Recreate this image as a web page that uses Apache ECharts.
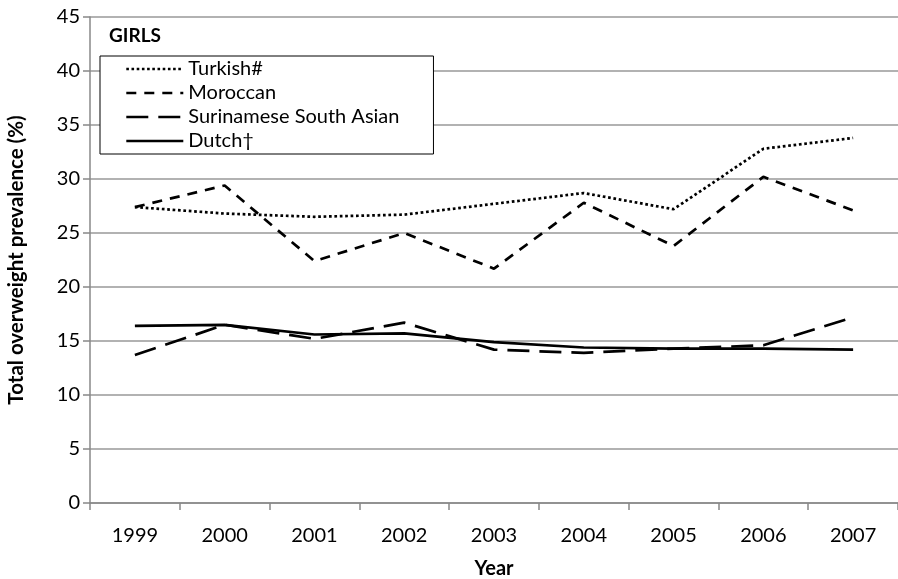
<!DOCTYPE html>
<html>
<head>
<meta charset="utf-8">
<script src="https://cdn.jsdelivr.net/npm/echarts@6/dist/echarts.min.js"></script>
<style>html,body{margin:0;padding:0;background:#fff}#c{width:898px;height:579px}</style>
</head>
<body>
<div id="c"></div>
<script>
const years = ['1999','2000','2001','2002','2003','2004','2005','2006','2007'];
const turkish = [27.4, 26.8, 26.5, 26.7, 27.7, 28.7, 27.2, 32.8, 33.8];
const moroccan = [27.4, 29.4, 22.4, 25.0, 21.7, 27.8, 23.8, 30.2, 27.1];
const surinamese = [13.7, 16.5, 15.2, 16.7, 14.2, 13.9, 14.3, 14.6, 17.2];
const dutch = [16.4, 16.5, 15.6, 15.7, 14.9, 14.4, 14.3, 14.3, 14.2];
const seriesNames = ['Turkish#', 'Moroccan', 'Surinamese South Asian', 'Dutch\u2020'];

const FONT = 'Lato';
const chart = echarts.init(document.getElementById('c'), null, {renderer: 'canvas'});

function mk(name, data, type, width) {
  return {
    name: name, type: 'line', data: data, symbol: 'none', smooth: false,
    lineStyle: {color: '#000', width: width, type: type},
    itemStyle: {color: '#000'},
    emphasis: {disabled: true}
  };
}

chart.setOption({
  animation: false,
  backgroundColor: '#fff',
  title: {
    text: 'GIRLS', left: 104, top: 21,
    textStyle: {fontFamily: FONT, fontSize: 19, fontWeight: 'bold', color: '#000'}
  },
  legend: {
    show: true, orient: 'vertical', left: 100, top: 56,
    padding: [1, 34, 1, 25],
    borderColor: '#000', borderWidth: 1,
    itemWidth: 57, itemHeight: 14, itemGap: 0,
    itemStyle: {opacity: 0},
    lineStyle: {width: 2.6},
    backgroundColor: '#fff',
    data: seriesNames,
    textStyle: {fontFamily: FONT, fontSize: 20, lineHeight: 24, color: '#000', padding: [0,0,0,0]}
  },
  grid: {left: 90, right: 0, top: 17, bottom: 76, containLabel: false, outerBoundsMode: 'none'},
  xAxis: {
    type: 'category', data: years, boundaryGap: true,
    name: 'Year', nameLocation: 'middle', nameGap: 56,
    nameTextStyle: {fontFamily: FONT, fontSize: 20, fontWeight: 'bold', color: '#000'},
    axisLine: {lineStyle: {color: '#888', width: 1.5}},
    axisTick: {show: true, length: 7, alignWithLabel: false, lineStyle: {color: '#888', width: 1.5}},
    axisLabel: {fontFamily: FONT, fontSize: 20, color: '#000', margin: 23}
  },
  yAxis: {
    type: 'value', min: 0, max: 45, interval: 5,
    name: 'Total overweight prevalence (%)', nameLocation: 'middle', nameGap: 63,
    nameTextStyle: {fontFamily: FONT, fontSize: 20.5, fontWeight: 'bold', color: '#000'},
    axisLine: {show: true, lineStyle: {color: '#888', width: 1.5}},
    axisTick: {show: true, length: 7, lineStyle: {color: '#888', width: 1.5}},
    axisLabel: {fontFamily: FONT, fontSize: 20, color: '#000', margin: 10},
    splitLine: {show: true, lineStyle: {color: '#999', width: 1.5}}
  },
  series: [
    mk(seriesNames[0], turkish, 'dotted', 2.7),
    mk(seriesNames[1], moroccan, [10, 8], 2.7),
    mk(seriesNames[2], surinamese, [22, 10], 2.7),
    mk(seriesNames[3], dutch, 'solid', 2.7)
  ]
});
</script>
</body>
</html>
